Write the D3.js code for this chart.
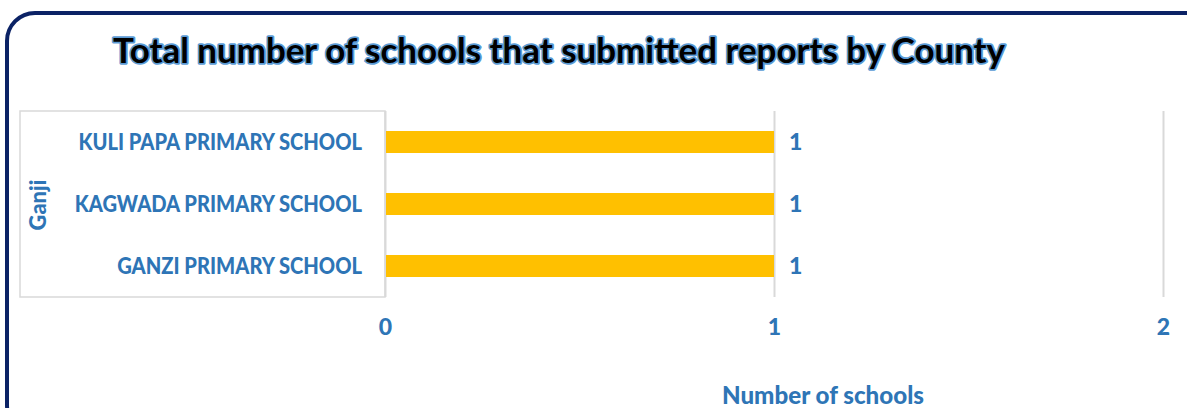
<!DOCTYPE html>
<html>
<head>
<meta charset="utf-8">
<script src="https://cdn.jsdelivr.net/npm/d3@7"></script>
<style>
  body { margin: 0; background: #fff; }
  svg { display: block; font-family: Lato, "Open Sans", sans-serif; }
</style>
</head>
<body>
<svg width="1187" height="408"></svg>
<script>
const title = 'Total number of schools that submitted reports by County';
const county = 'Ganji';
const schools = ['KULI PAPA PRIMARY SCHOOL', 'KAGWADA PRIMARY SCHOOL', 'GANZI PRIMARY SCHOOL'];
const counts = [1, 1, 1];
const tick_values = [0, 1, 2];
const axis_title = 'Number of schools';

const blue = '#2E75B6';

let svg = d3.select('svg');

// squeeze Lato so it looks closer to the narrow original face
function fitWidth(sel, w) {
    sel.attr('textLength', w).attr('lengthAdjust', 'spacingAndGlyphs');
}
function narrow(sel, k) {
    sel.each(function () {
        let len = this.getComputedTextLength();
        d3.select(this).attr('textLength', len * k).attr('lengthAdjust', 'spacingAndGlyphs');
    });
}

// frame
svg.append('rect')
    .attr('x', 7).attr('y', 13)
    .attr('width', 1210).attr('height', 420)
    .attr('rx', 28).attr('ry', 28)
    .attr('fill', 'none')
    .attr('stroke', '#0B2265')
    .attr('stroke-width', 4);

svg.append('text')
    .attr('x', 559).attr('y', 63)
    .attr('text-anchor', 'middle')
    .attr('font-size', 35)
    .attr('font-weight', 700)
    .attr('fill', '#000')
    .attr('stroke', '#5B9BD5')
    .attr('stroke-width', 3.5)
    .attr('stroke-linejoin', 'round')
    .attr('paint-order', 'stroke')
    .text(title)
    .call(fitWidth, 892);

let x = d3.scaleLinear().domain([0, 2]).range([385, 1163]);
let y = d3.scaleBand().domain(schools).range([111, 297])
    .paddingInner(0.645).paddingOuter(0.3225);

// category box
svg.append('rect')
    .attr('x', 20).attr('y', 111)
    .attr('width', 365).attr('height', 186)
    .attr('fill', 'none')
    .attr('stroke', '#d9d9d9')
    .attr('stroke-width', 1.5);

// gridlines + tick labels
let axis = svg.append('g')
    .attr('transform', 'translate(0,297)')
    .call(d3.axisBottom(x).tickValues(tick_values).tickSize(-186).tickPadding(22).tickFormat(d3.format('d')));
axis.select('.domain').remove();
axis.selectAll('line').attr('stroke', '#d9d9d9').attr('stroke-width', 2);
axis.selectAll('text')
    .attr('font-size', 23).attr('font-weight', 900).attr('fill', blue)
    .attr('font-family', 'Lato, sans-serif');

svg.append('g').selectAll('rect')
    .data(counts)
    .enter().append('rect')
    .attr('x', x(0) + 1)
    .attr('y', (d, i) => y(schools[i]))
    .attr('width', d => x(d) - x(0) - 1)
    .attr('height', y.bandwidth())
    .attr('fill', '#FFC000');

svg.append('g').selectAll('text')
    .data(counts)
    .enter().append('text')
    .attr('x', d => x(d) + 15)
    .attr('y', (d, i) => y(schools[i]) + y.bandwidth() / 2)
    .attr('dy', '0.36em')
    .attr('font-size', 23).attr('font-weight', 900).attr('fill', blue)
    .text(d => d);

svg.append('g').selectAll('text')
    .data(schools)
    .enter().append('text')
    .attr('x', 362)
    .attr('y', d => y(d) + y.bandwidth() / 2)
    .attr('dy', '0.36em')
    .attr('text-anchor', 'end')
    .attr('font-size', 23).attr('font-weight', 900).attr('fill', blue)
    .text(d => d)
    .call(narrow, 0.875);

svg.append('text')
    .attr('transform', 'translate(38,205) rotate(-90)')
    .attr('text-anchor', 'middle')
    .attr('dy', '0.36em')
    .attr('font-size', 23).attr('font-weight', 900).attr('fill', blue)
    .text(county)
    .call(narrow, 0.95);

svg.append('text')
    .attr('x', 823).attr('y', 404)
    .attr('text-anchor', 'middle')
    .attr('font-size', 25).attr('font-weight', 900).attr('fill', blue)
    .text(axis_title)
    .call(fitWidth, 202);
</script>
</body>
</html>
